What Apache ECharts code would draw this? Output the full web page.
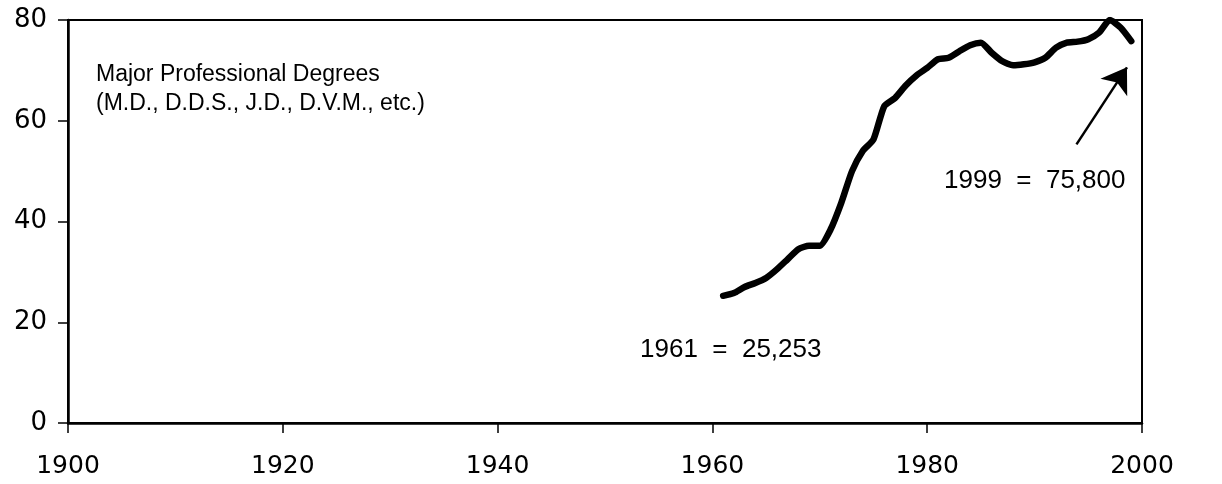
<!DOCTYPE html>
<html>
<head>
    <meta charset="utf-8">
    <title>Major Professional Degrees</title>
    <script src="https://cdn.jsdelivr.net/npm/echarts@6/dist/echarts.min.js"></script>
    <style>
        html, body {
            height: 100%;
            margin: 0;
            padding: 0;
            background-color: #fff;
        }
    </style>
</head>
<body>
<div id="chart-box" style="width:1222px; height:484px;"></div>
<script type="text/javascript">
    // degrees conferred, thousands
    const years = [1961, 1962, 1963, 1964, 1965, 1966, 1967, 1968, 1969, 1970,
        1971, 1972, 1973, 1974, 1975, 1976, 1977, 1978, 1979, 1980,
        1981, 1982, 1983, 1984, 1985, 1986, 1987, 1988, 1989, 1990,
        1991, 1992, 1993, 1994, 1995, 1996, 1997, 1998, 1999];
    const degrees = [25.25, 25.8, 27.0, 27.8, 28.8, 30.5, 32.5, 34.5, 35.2, 35.2,
        38.4, 43.7, 50.0, 54.0, 56.3, 62.9, 64.5, 67.0, 69.0, 70.5,
        72.2, 72.5, 73.8, 75.0, 75.5, 73.5, 71.8, 71.0, 71.2, 71.6,
        72.5, 74.5, 75.5, 75.7, 76.2, 77.5, 80.0, 78.5, 75.8];
    const arrowFrom = [1993.9, 55.3];
    const arrowTo = [1998.6, 70.6];
    const titleLines = ["Major Professional Degrees", "(M.D., D.D.S., J.D., D.V.M., etc.)"];
    const notes = ["1961  =  25,253", "1999  =  75,800"];

    const chart = echarts.init(document.getElementById("chart-box"));
    const labelFont = "DejaVu Sans";
    const textFont = "'Liberation Sans', Arial, sans-serif";

    chart.setOption({
        animation: false,
        grid: {
            left: 68, right: 80, top: 20, bottom: 61,
            show: true, borderColor: "#000", borderWidth: 2
        },
        xAxis: {
            type: "value", min: 1900, max: 2000, interval: 20,
            axisLine: { lineStyle: { color: "#000", width: 2.5 } },
            axisTick: { show: true, inside: false, length: 10, lineStyle: { color: "#000", width: 1.5 } },
            axisLabel: {
                color: "#000", fontFamily: labelFont, fontSize: 25, margin: 31,
                formatter: v => String(v)
            },
            splitLine: { show: false }
        },
        yAxis: {
            type: "value", min: 0, max: 80, interval: 20,
            axisLine: { show: true, lineStyle: { color: "#000", width: 2.5 } },
            axisTick: { show: true, inside: false, length: 10, lineStyle: { color: "#000", width: 1.5 } },
            axisLabel: { color: "#000", fontFamily: labelFont, fontSize: 26, margin: 21 },
            splitLine: { show: false }
        },
        series: [{
            type: "line",
            data: years.map((y, i) => [y, degrees[i]]),
            showSymbol: false,
            smooth: 0.2,
            lineStyle: { color: "#000", width: 6.5, join: "round", cap: "round" },
            markLine: {
                silent: true,
                symbol: ["none", "arrow"],
                symbolSize: 24,
                label: { show: false },
                lineStyle: { color: "#000", width: 2.5, type: "solid" },
                data: [[{ coord: arrowFrom }, { coord: arrowTo }]]
            }
        }],
        graphic: [
            {
                type: "text", left: 96, top: 60,
                style: {
                    text: titleLines.join("\n"),
                    font: "23px " + textFont,
                    lineHeight: 29, fill: "#000"
                }
            },
            {
                type: "text", left: 640, top: 337,
                style: { text: notes[0], font: "26px " + textFont, fill: "#000" }
            },
            {
                type: "text", left: 944, top: 168,
                style: { text: notes[1], font: "26px " + textFont, fill: "#000" }
            }
        ]
    });
</script>
</body>
</html>
